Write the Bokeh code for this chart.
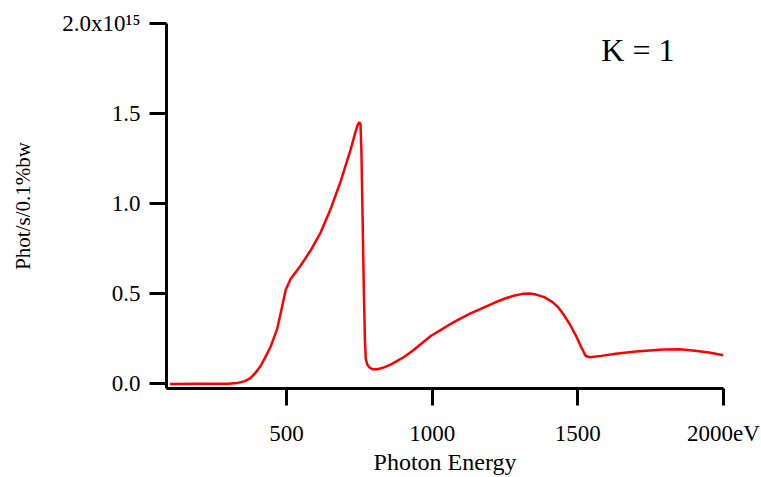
from bokeh.plotting import figure
from bokeh.models import Range1d, FixedTicker, PrintfTickFormatter, Label
from bokeh.embed import file_html
from bokeh.resources import INLINE

# Photon energy (eV) and flux (units of 1e15 phot/s/0.1%bw)
energy_eV = [100, 200, 300, 330, 357, 376, 391, 411, 425, 445, 468, 485, 497, 514,
             548, 582, 617, 651, 686, 720, 737, 745, 750, 754, 757, 760, 763, 766,
             769, 772, 777, 786, 795, 812, 835, 857, 880, 903, 926, 949, 972, 995,
             1030, 1064, 1085, 1130, 1180, 1215, 1248, 1280, 1310, 1335, 1357, 1385,
             1412, 1433, 1453, 1473, 1493, 1510, 1527, 1541, 1580, 1630, 1700, 1793,
             1850, 1902, 1950, 2000]
flux_1e15 = [0.000, 0.001, 0.002, 0.005, 0.016, 0.032, 0.057, 0.100, 0.142, 0.205,
             0.306, 0.430, 0.522, 0.583, 0.656, 0.739, 0.840, 0.969, 1.125, 1.300,
             1.400, 1.440, 1.452, 1.440, 1.300, 1.024, 0.750, 0.472, 0.250, 0.141,
             0.108, 0.090, 0.082, 0.082, 0.092, 0.108, 0.128, 0.150, 0.176, 0.205,
             0.236, 0.266, 0.300, 0.334, 0.353, 0.390, 0.427, 0.452, 0.473, 0.490,
             0.500, 0.502, 0.496, 0.482, 0.456, 0.425, 0.381, 0.330, 0.270, 0.210,
             0.155, 0.148, 0.156, 0.168, 0.180, 0.192, 0.193, 0.185, 0.175, 0.159]

x_ticks = [500, 1000, 1500, 2000]
y_ticks = [0.0, 0.5, 1.0, 1.5, 2.0]

FONT = "Liberation Serif"

p = figure(width=761, height=477, output_backend="svg", toolbar_location=None,
           x_range=Range1d(88, 2000), y_range=Range1d(-0.025, 2.0),
           min_border_left=166, min_border_right=38, min_border_top=23,
           min_border_bottom=87)
p.outline_line_color = None
p.grid.visible = False
p.background_fill_color = "white"
p.border_fill_color = "white"

p.line(energy_eV, flux_1e15, line_color="#ff0000", line_width=2.5)

for ax in (p.xaxis[0], p.yaxis[0]):
    ax.axis_line_width = 3
    ax.axis_line_color = "black"
    ax.major_tick_line_width = 3
    ax.major_tick_line_color = "black"
    ax.major_tick_out = 17
    ax.major_tick_in = 0
    ax.minor_tick_line_color = None
    ax.major_label_text_font = FONT
    ax.major_label_text_font_size = "23px"
    ax.major_label_text_color = "black"
    ax.axis_label_text_font = FONT
    ax.axis_label_text_font_style = "normal"
    ax.axis_label_text_color = "black"

xa = p.xaxis[0]
xa.ticker = FixedTicker(ticks=x_ticks)
xa.major_label_overrides = {2000: "2000eV"}
xa.major_label_standoff = 15
xa.axis_label = "Photon Energy"
xa.axis_label_standoff = 0
xa.axis_label_text_font_size = "24px"

ya = p.yaxis[0]
ya.ticker = FixedTicker(ticks=y_ticks)
ya.formatter = PrintfTickFormatter(format="%.1f")
ya.major_label_overrides = {2.0: "2.0x10\u00b9\u2075"}
ya.major_label_standoff = 9
ya.major_label_orientation = "horizontal"
ya.axis_label = "Phot/s/0.1%bw"
ya.axis_label_standoff = 24
ya.axis_label_text_font_size = "21px"

p.add_layout(Label(x=1706, y=1.852, text="K = 1", text_align="center",
                   text_baseline="middle", text_font=FONT, text_font_size="32px",
                   text_color="black"))

open("out.html", "w").write(file_html(p, INLINE))
